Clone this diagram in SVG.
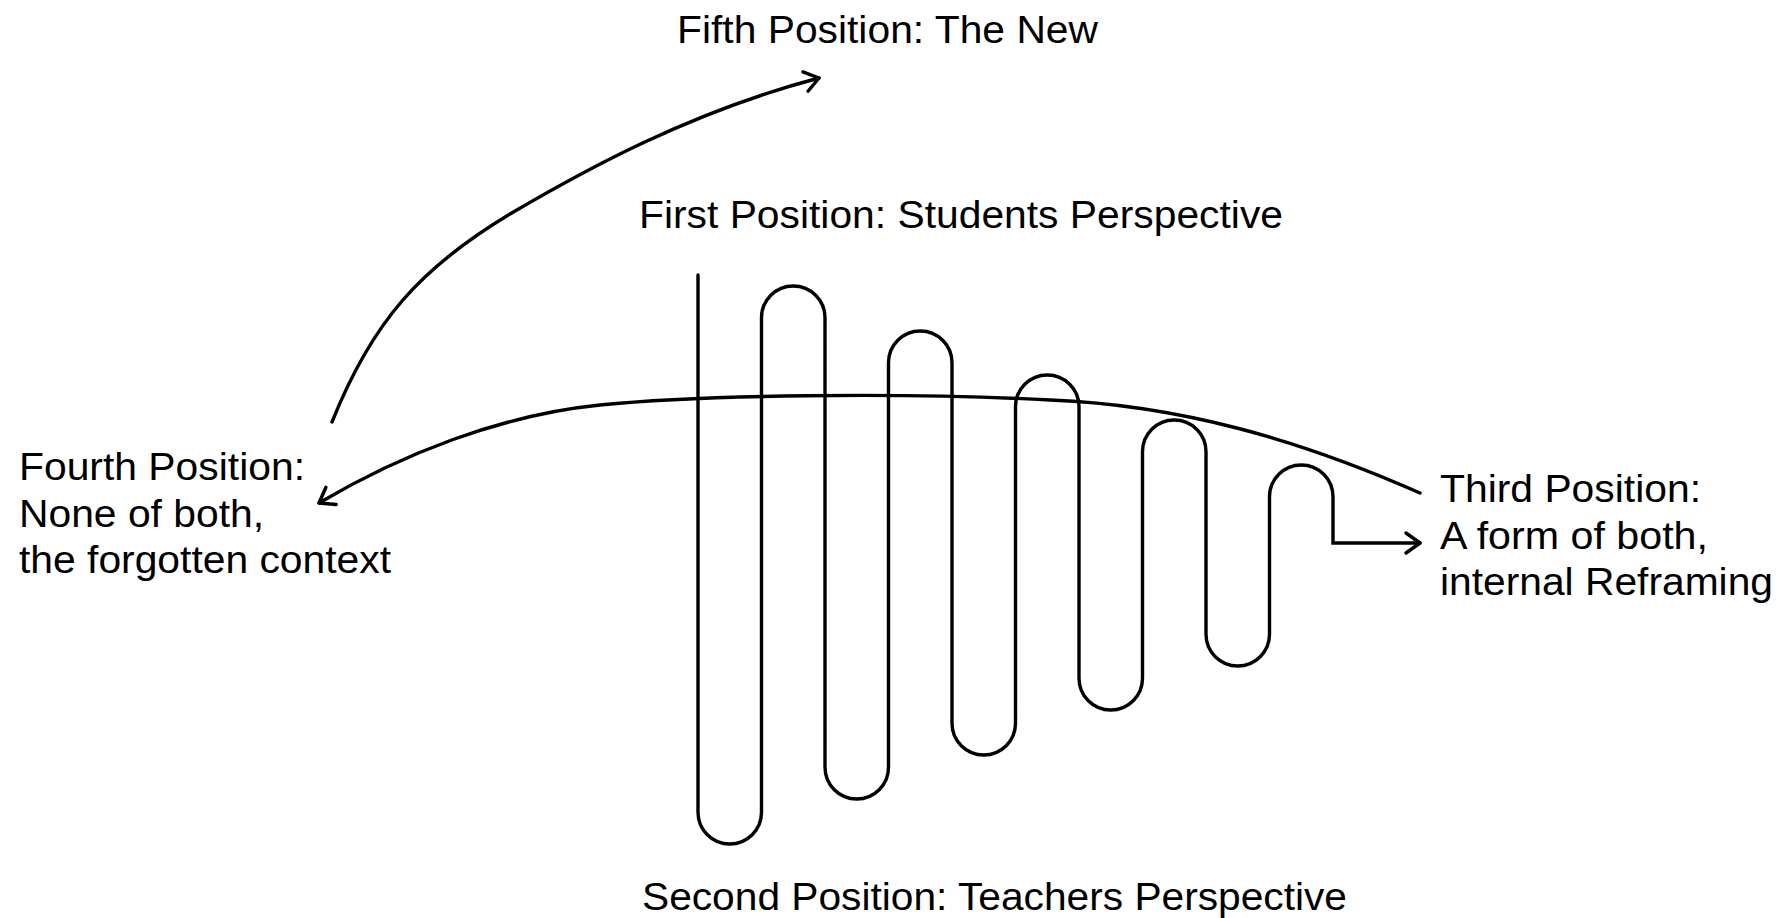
<svg xmlns="http://www.w3.org/2000/svg" width="1789" height="918" viewBox="0 0 1789 918">
  <style>
    .lbl { font-family: "Liberation Sans", Arial, sans-serif; font-size: 38px; fill: #000; }
    .ln { fill: none; stroke: #000; stroke-width: 3.4; stroke-linecap: round; }
  </style>
  <defs>
    <marker id="arr" markerUnits="userSpaceOnUse" viewBox="-20 -15 25 30" markerWidth="25" markerHeight="30" refX="0" refY="0" orient="auto" overflow="visible">
      <path d="M-14,-10 L0,0 L-14,10" fill="none" stroke="#000" stroke-width="3.4" stroke-linecap="round" stroke-linejoin="round"/>
    </marker>
  </defs>
  <rect width="1789" height="918" fill="#fff"/>

  <g id="node-fifth">
    <text class="lbl" x="677" y="43" textLength="421" lengthAdjust="spacingAndGlyphs">Fifth Position: The New</text>
  </g>
  <g id="node-first">
    <text class="lbl" x="639" y="228" textLength="644" lengthAdjust="spacingAndGlyphs">First Position: Students Perspective</text>
  </g>
  <g id="node-second">
    <text class="lbl" x="642" y="910" textLength="705" lengthAdjust="spacingAndGlyphs">Second Position: Teachers Perspective</text>
  </g>
  <g id="node-fourth">
    <text class="lbl" x="19" y="480" textLength="286" lengthAdjust="spacingAndGlyphs">Fourth Position:</text>
    <text class="lbl" x="19" y="527" textLength="245" lengthAdjust="spacingAndGlyphs">None of both,</text>
    <text class="lbl" x="19" y="573" textLength="372" lengthAdjust="spacingAndGlyphs">the forgotten context</text>
  </g>
  <g id="node-third">
    <text class="lbl" x="1440" y="502" textLength="261" lengthAdjust="spacingAndGlyphs">Third Position:</text>
    <text class="lbl" x="1440" y="548.5" textLength="268" lengthAdjust="spacingAndGlyphs">A form of both,</text>
    <text class="lbl" x="1440" y="595" textLength="333" lengthAdjust="spacingAndGlyphs">internal Reframing</text>
  </g>

  <g id="connectors">
    <path id="comb" class="ln" marker-end="url(#arr)" d="M698,275 V812.25 A31.75,31.75 0 0 0 761.5,812.25 V317.75 A31.75,31.75 0 0 1 825,317.75 V767.25 A31.75,31.75 0 0 0 888.5,767.25 V362.75 A31.75,31.75 0 0 1 952,362.75 V723.25 A31.75,31.75 0 0 0 1015.5,723.25 V406.75 A31.75,31.75 0 0 1 1079,406.75 V678.25 A31.75,31.75 0 0 0 1142.5,678.25 V451.75 A31.75,31.75 0 0 1 1206,451.75 V634.25 A31.75,31.75 0 0 0 1269.5,634.25 V496.75 A31.75,31.75 0 0 1 1333,496.75 V543 H1420"/>
    <path id="to-fourth" class="ln" marker-end="url(#arr)" d="M1420,493 C1300,440 1180,405 1050,400 C900,392 700,395 600,405 C500,415 400,455 319,503"/>
    <path id="to-fifth" class="ln" marker-end="url(#arr)" d="M332,422 C372,322 420,268 510,214 C585,170 690,112 819,78"/>
  </g>
</svg>
